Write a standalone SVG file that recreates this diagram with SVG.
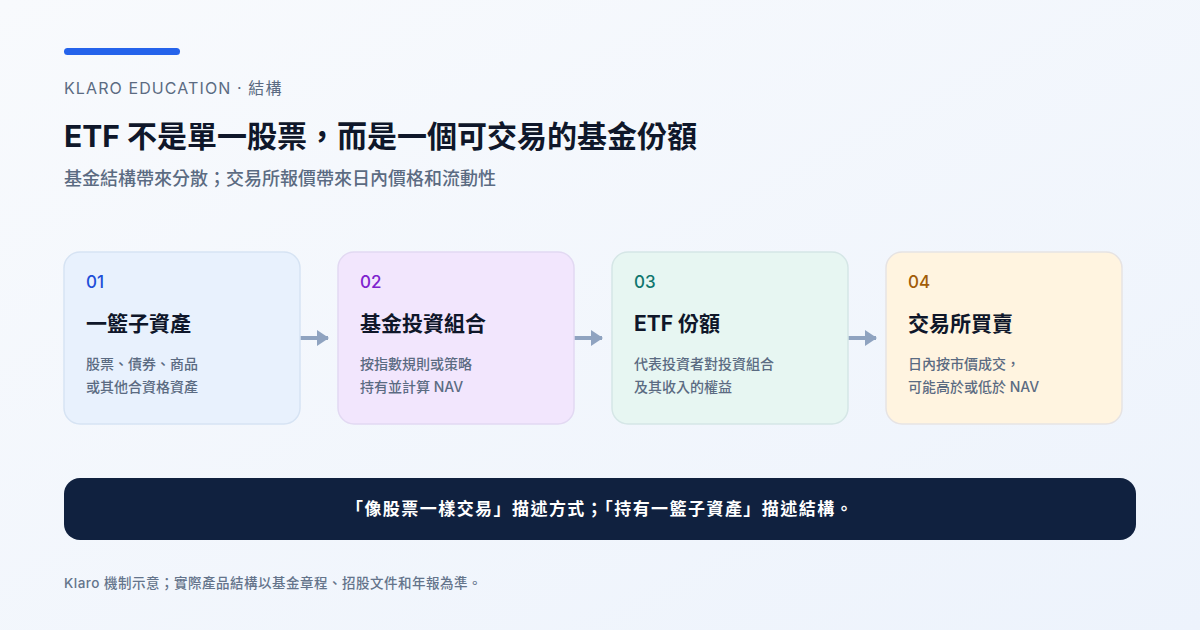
<svg xmlns="http://www.w3.org/2000/svg" width="1200" height="630" viewBox="0 0 1200 630">
<defs>
<linearGradient id="bg" x1="0" y1="0" x2="1" y2="1">
<stop offset="0" stop-color="#f8fafd"/>
<stop offset="1" stop-color="#edf3fc"/>
</linearGradient>
<marker id="ah" viewBox="0 0 12 16" refX="11" refY="8" markerWidth="12" markerHeight="16" markerUnits="userSpaceOnUse" orient="auto">
<path d="M0,0 L12,8 L0,16 Z" fill="#8fa3c0"/>
</marker>
<style>
text{font-family:Inter,"Noto Sans CJK TC","Noto Sans",sans-serif}
.eyebrow{font-size:16px;fill:#5b6b82;font-weight:400;letter-spacing:1.1px}
.title{font-size:30px;font-weight:700;fill:#0f172a}
.sub{font-size:18px;font-weight:500;fill:#5b6b82}
.card{stroke-width:1.5}
.num{font-size:17px;font-weight:500}
.ct{font-size:21px;font-weight:700;fill:#0f172a}
.cd{font-size:14px;font-weight:500;fill:#5b6b82}
.conn{stroke:#8fa3c0;stroke-width:4;fill:none}
.banner{font-size:17px;font-weight:700;fill:#ffffff;letter-spacing:1.45px}
.foot{font-size:13.5px;font-weight:500;fill:#64748b;letter-spacing:0.5px}
</style>
</defs>
<rect width="1200" height="630" fill="url(#bg)"/>
<rect x="64" y="48" width="116" height="7" rx="3.5" fill="#2563eb"/>
<text class="eyebrow" x="64" y="94">KLARO EDUCATION · 結構</text>
<text class="title" x="64" y="147">ETF 不是單一股票，而是一個可交易的基金份額</text>
<text class="sub" x="64" y="185">基金結構帶來分散；交易所報價帶來日內價格和流動性</text>

<g id="connectors">
<line class="conn" x1="300" y1="338" x2="328" y2="338" marker-end="url(#ah)"/>
<line class="conn" x1="574" y1="338" x2="602" y2="338" marker-end="url(#ah)"/>
<line class="conn" x1="848" y1="338" x2="876" y2="338" marker-end="url(#ah)"/>
</g>

<g id="card1">
<rect class="card" x="64" y="252" width="236" height="172" rx="16" fill="#e8f1fd" stroke="#d6e3f3"/>
<text class="num" x="86" y="288" fill="#1d4ed8">01</text>
<text class="ct" x="86" y="331">一籃子資產</text>
<text class="cd" x="86" y="369">股票、債券、商品</text>
<text class="cd" x="86" y="392">或其他合資格資產</text>
</g>
<g id="card2">
<rect class="card" x="338" y="252" width="236" height="172" rx="16" fill="#f2e6fd" stroke="#e2d9f2"/>
<text class="num" x="360" y="288" fill="#7e22ce">02</text>
<text class="ct" x="360" y="331">基金投資組合</text>
<text class="cd" x="360" y="369">按指數規則或策略</text>
<text class="cd" x="360" y="392">持有並計算 NAV</text>
</g>
<g id="card3">
<rect class="card" x="612" y="252" width="236" height="172" rx="16" fill="#e7f6f2" stroke="#d5e6e6"/>
<text class="num" x="634" y="288" fill="#0f766e">03</text>
<text class="ct" x="634" y="331">ETF 份額</text>
<text class="cd" x="634" y="369">代表投資者對投資組合</text>
<text class="cd" x="634" y="392">及其收入的權益</text>
</g>
<g id="card4">
<rect class="card" x="886" y="252" width="236" height="172" rx="16" fill="#fff4e0" stroke="#e6e3e3"/>
<text class="num" x="908" y="288" fill="#a15c07">04</text>
<text class="ct" x="908" y="331">交易所買賣</text>
<text class="cd" x="908" y="369">日內按市價成交，</text>
<text class="cd" x="908" y="392">可能高於或低於 NAV</text>
</g>

<g id="banner">
<rect x="64" y="478" width="1072" height="62" rx="16" fill="#10213f"/>
<text class="banner" x="600" y="515" text-anchor="middle">「像股票一樣交易」描述方式；「持有一籃子資產」描述結構。</text>
</g>
<text class="foot" x="64" y="588">Klaro 機制示意；實際產品結構以基金章程、招股文件和年報為準。</text>
</svg>
